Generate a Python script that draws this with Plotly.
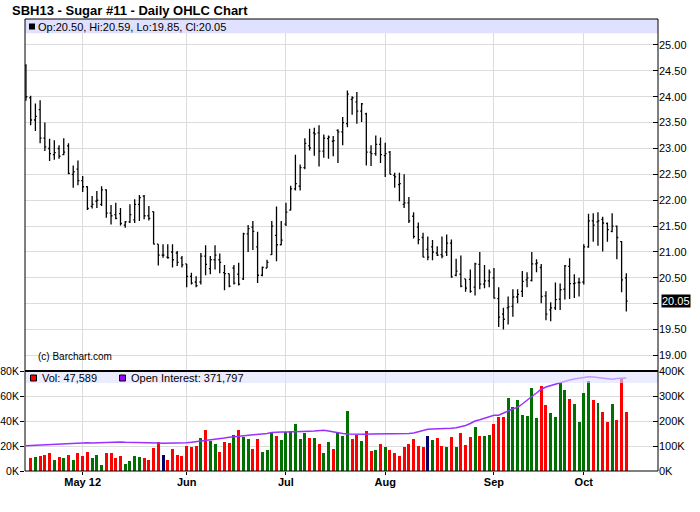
import pandas as pd
import plotly.graph_objects as go

# ---------------- data ----------------
holidays = ["2012-05-28", "2012-07-04", "2012-09-03"]
dates = [d.strftime("%Y-%m-%d") for d in pd.bdate_range("2012-04-13", "2012-10-12")
         if d.strftime("%Y-%m-%d") not in holidays]

opens = [24.60, 23.98, 23.55, 23.75, 23.20, 23.00, 22.88, 23.00, 22.88, 23.05,
         22.50, 22.60, 22.38, 22.26, 21.88, 21.98, 21.92, 22.20, 21.75, 21.72,
         21.74, 21.52, 21.58, 21.62, 21.92, 22.08, 21.70, 21.78, 21.15, 20.94,
         20.90, 21.00, 20.98, 20.88, 20.77, 20.53, 20.42, 20.42, 20.92, 20.68,
         20.85, 20.85, 20.60, 20.58, 20.69, 20.57, 20.48, 21.35, 21.48, 21.10,
         20.55, 20.69, 20.95, 21.32, 21.14, 21.54, 21.81, 22.22, 22.27, 22.63,
         23.05, 23.30, 23.30, 22.95, 23.19, 23.14, 23.35, 23.32, 23.48, 23.95,
         23.90, 23.72, 23.67, 22.93, 22.90, 23.08, 22.86, 22.93, 22.48, 22.30,
         21.92, 21.95, 21.69, 21.48, 21.28, 21.05, 21.10, 20.98, 20.95, 21.00,
         21.17, 20.55, 20.57, 20.48, 20.47, 20.32, 20.76, 20.38, 20.44, 20.50,
         20.10, 19.80, 19.92, 19.95, 20.13, 20.24, 20.46, 20.45, 20.77, 20.70,
         20.15, 19.88, 19.92, 20.09, 20.28, 20.72, 20.39, 20.41, 20.42, 21.10,
         21.60, 21.58, 21.63, 21.55, 21.40, 21.50, 21.20, 20.50]
highs = [24.63, 24.02, 23.87, 23.93, 23.50, 23.19, 23.16, 23.06, 23.20, 23.10,
         22.67, 22.77, 22.47, 22.27, 22.08, 22.18, 22.27, 22.21, 21.91, 21.95,
         21.85, 21.60, 21.92, 22.02, 22.10, 22.10, 21.89, 21.78, 21.15, 21.15,
         21.15, 21.15, 21.02, 20.92, 20.77, 20.60, 20.53, 20.98, 21.13, 20.92,
         21.13, 20.97, 20.75, 20.58, 20.75, 20.79, 21.37, 21.52, 21.60, 21.39,
         20.72, 20.85, 21.60, 21.88, 21.60, 21.95, 22.28, 22.88, 22.69, 23.20,
         23.38, 23.40, 23.45, 23.27, 23.25, 23.24, 23.37, 23.61, 24.12, 24.01,
         24.09, 23.88, 23.69, 23.06, 23.25, 23.21, 23.11, 22.95, 22.53, 22.53,
         22.50, 22.06, 21.77, 21.57, 21.37, 21.30, 21.23, 21.11, 21.30, 21.34,
         21.24, 20.87, 20.93, 20.48, 20.66, 20.79, 21.00, 20.75, 20.66, 20.69,
         20.32, 19.92, 20.14, 20.28, 20.28, 20.63, 20.61, 21.00, 20.86, 20.77,
         20.24, 20.03, 20.41, 20.39, 20.75, 20.88, 20.57, 20.50, 21.15, 21.74,
         21.75, 21.77, 21.68, 21.57, 21.75, 21.51, 21.21, 20.59]
lows = [23.92, 23.45, 23.34, 23.10, 22.95, 22.76, 22.78, 22.80, 22.87, 22.50,
        22.24, 22.29, 22.16, 21.81, 21.84, 21.85, 21.89, 21.66, 21.53, 21.63,
        21.51, 21.47, 21.56, 21.56, 21.60, 21.63, 21.61, 21.15, 20.74, 20.89,
        20.87, 20.70, 20.73, 20.70, 20.32, 20.37, 20.32, 20.37, 20.55, 20.57,
        20.66, 20.59, 20.26, 20.32, 20.37, 20.35, 20.46, 21.00, 21.04, 20.40,
        20.53, 20.69, 20.94, 20.82, 21.13, 21.50, 21.80, 22.19, 22.19, 22.60,
        22.96, 22.86, 22.65, 22.82, 22.80, 22.85, 22.72, 23.06, 23.41, 23.65,
        23.48, 23.51, 22.67, 22.66, 22.86, 22.72, 22.45, 22.50, 22.24, 21.98,
        21.85, 21.56, 21.26, 21.15, 20.90, 20.84, 20.84, 20.92, 20.88, 20.92,
        20.50, 20.53, 20.32, 20.23, 20.21, 20.16, 20.28, 20.30, 20.32, 20.10,
        19.55, 19.50, 19.60, 19.75, 20.01, 20.13, 20.32, 20.43, 20.61, 20.01,
        19.68, 19.66, 19.88, 19.88, 20.08, 20.09, 20.11, 20.14, 20.37, 21.08,
        21.20, 21.12, 21.01, 21.20, 21.38, 20.86, 20.22, 19.85]
closes = [24.00, 23.55, 23.62, 23.20, 23.03, 22.90, 22.92, 22.85, 22.93, 22.52,
          22.55, 22.38, 22.26, 21.84, 21.92, 22.00, 22.20, 21.75, 21.70, 21.65,
          21.55, 21.58, 21.72, 21.92, 22.05, 21.70, 21.65, 21.15, 20.94, 20.94,
          20.89, 20.85, 20.80, 20.75, 20.53, 20.40, 20.35, 20.92, 20.76, 20.85,
          20.94, 20.80, 20.58, 20.34, 20.40, 20.38, 21.35, 21.45, 21.40, 20.55,
          20.70, 20.80, 21.50, 21.14, 21.23, 21.77, 22.22, 22.32, 22.63, 23.10,
          23.01, 23.28, 22.95, 23.20, 23.22, 23.15, 23.32, 23.50, 24.05, 23.98,
          23.72, 23.86, 22.93, 22.90, 23.08, 22.88, 22.90, 22.50, 22.45, 22.32,
          21.95, 21.60, 21.30, 21.24, 20.90, 20.90, 21.00, 20.94, 20.92, 21.17,
          20.52, 20.63, 20.34, 20.30, 20.24, 20.77, 20.38, 20.44, 20.61, 20.11,
          19.74, 19.70, 19.94, 20.13, 20.18, 20.43, 20.50, 20.77, 20.79, 20.14,
          19.80, 19.92, 20.08, 20.27, 20.73, 20.39, 20.40, 20.41, 21.10, 21.60,
          21.52, 21.60, 21.56, 21.43, 21.50, 21.28, 20.46, 20.05]
volumes = [None, 10400, 11200, 12300, 12800, 14400, 8800, 11200, 10400, 12800,
           8800, 14100, 12300, 15200, 10400, 12800, 4800, 14400, 14700, 10400,
           12300, 5600, 8000, 12000, 11200, 10400, 8800, 18700, 23200, 12800,
           8800, 17600, 12800, 12300, 20000, 19200, 20000, 26400, 32800, 23700,
           21600, 15200, 23200, 22400, 28800, 32800, 27200, 25600, 17600, 25600,
           15200, 16800, 31200, 28000, 24800, 30900, 32000, 37600, 25600, 30400,
           26400, 26400, 21600, 14400, 23200, 17600, 30600, 28000, 48000, 25900,
           28800, 24000, 32000, 16000, 16800, 21600, 19200, 16800, 14400, 12000,
           19200, 21600, 25600, 20000, 19200, 28000, 24800, 26400, 20000, 19200,
           27200, 19200, 30400, 20800, 27200, 35200, 28000, 28000, 28800, 37600,
           43200, 43200, 58400, 51200, 56800, 44800, 44000, 66400, 42400, 68000,
           52800, 46400, 43200, 70400, 64800, 57600, 53600, 39200, 62400, 72000,
           56800, 54400, 47200, 39200, 53600, 40800, 74400, 47589]
open_interest = [101000, 102000, 103000, 104000, 105000, 106000, 107000, 108000, 109000, 110000,
                 111000, 112000, 113000, 113000, 112000, 113000, 114000, 115000, 116000, 116000,
                 116000, 115000, 115000, 114000, 114000, 113000, 113000, 112000, 112000, 111000,
                 111000, 112000, 112000, 113000, 113000, 115000, 117000, 120000, 122000, 125000,
                 127000, 130000, 132000, 135000, 137000, 138000, 140000, 141000, 143000, 144000,
                 146000, 150000, 154000, 156000, 156000, 156000, 156000, 156000, 157000, 158000,
                 159000, 160000, 162000, 163000, 160000, 156000, 153000, 150000, 148000, 147000,
                 147000, 147000, 147000, 148000, 148000, 149000, 149000, 150000, 150000, 150000,
                 150000, 150000, 152000, 158000, 163000, 167000, 168000, 168000, 169000, 170000,
                 171000, 173000, 176000, 182000, 190000, 200000, 205000, 212000, 218000, 223000,
                 223000, 230000, 240000, 248000, 255000, 268000, 285000, 298000, 312000, 327000,
                 336000, 342000, 347000, 353000, 360000, 364000, 368000, 371000, 374000, 377000,
                 376000, 374000, 372000, 369000, 367000, 370000, 371000, 371797]

month_ticks = ["2012-05-01", "2012-06-01", "2012-07-02", "2012-08-01", "2012-09-04", "2012-10-01"]
month_labels = ["May 12", "Jun", "Jul", "Aug", "Sep", "Oct"]
price_ticks = [19.0, 19.5, 20.0, 20.5, 21.0, 21.5, 22.0, 22.5, 23.0, 23.5, 24.0, 24.5, 25.0]
vol_ticks = [0, 20000, 40000, 60000, 80000]
oi_ticks = [0, 100000, 200000, 300000, 400000]
title_text = "SBH13 - Sugar #11 - Daily OHLC Chart"

# ---------------- geometry helpers ----------------
W, H = 700, 512
ML, MR, MT, MB = 25, 42, 19, 41
PW, PH = W - ML - MR, H - MT - MB
PRICE_RANGE = [18.70, 25.502]


def px(x):
    return (x - ML) / PW


def py(y):
    return (H - MB - y) / PH


split = py(371)
FONT = "Liberation Sans, Arial, sans-serif"

# volume colours from close-to-close change
vol_colors = []
for i, c in enumerate(closes):
    prev = closes[i - 1] if i > 0 else c
    d = round(c - prev, 4)
    vol_colors.append("#007000" if d > 0 else ("#FF0000" if d < 0 else "#000066"))

fig = go.Figure()
fig.add_trace(go.Bar(x=dates, y=volumes, marker=dict(color=vol_colors, line=dict(width=0)),
                     width=0.62, xaxis="x", yaxis="y", showlegend=False, hoverinfo="skip"))
fig.add_trace(go.Scatter(x=dates, y=open_interest, mode="lines",
                         line=dict(color="#9B30FF", width=1.5), xaxis="x", yaxis="y3",
                         showlegend=False, hoverinfo="skip"))
fig.add_trace(go.Ohlc(x=dates, open=opens, high=highs, low=lows, close=closes,
                      increasing=dict(line=dict(color="black", width=1.3)),
                      decreasing=dict(line=dict(color="black", width=1.3)),
                      tickwidth=0.3, xaxis="x2", yaxis="y2", showlegend=False))

grid = "#DCDCDC"
xcommon = dict(type="category", range=[-0.2, 133.7], tickvals=month_ticks,
               showgrid=True, gridcolor=grid, gridwidth=1, showline=False, zeroline=False,
               rangeslider=dict(visible=False), fixedrange=True, automargin=False)

price_labels = ["" if v == 20.0 else "%.2f" % v for v in price_ticks]

fig.update_layout(
    width=W, height=H, margin=dict(l=ML, r=MR, t=MT, b=MB, autoexpand=False),
    paper_bgcolor="white", plot_bgcolor="white",
    font=dict(family=FONT, size=11, color="black"),
    showlegend=False, bargap=0,
    xaxis=dict(domain=[0, 1], anchor="y",
               ticktext=["<b>%s</b>" % t for t in month_labels],
               ticks="outside", ticklen=3, tickcolor="black", ticklabelstandoff=-2,
               tickfont=dict(family=FONT, size=11, color="black"), **xcommon),
    xaxis2=dict(domain=[0, 1], anchor="y2", matches="x", showticklabels=False,
                ticks="", **xcommon),
    yaxis=dict(domain=[0, split], range=[0, 80000], tickvals=vol_ticks,
               ticktext=["%dK" % (v // 1000) for v in vol_ticks],
               side="left", ticks="outside", ticklen=4, tickcolor="black",
               ticklabelstandoff=-1,
               showgrid=True, gridcolor=grid, zeroline=False, fixedrange=True,
               automargin=False, tickfont=dict(size=10.5)),
    yaxis3=dict(overlaying="y", anchor="x", range=[0, 400000], tickvals=oi_ticks,
                ticktext=["%dK" % (v // 1000) for v in oi_ticks],
                side="right", ticks="inside", ticklen=5, tickcolor="black",
                showgrid=False, zeroline=False, fixedrange=True, automargin=False,
                tickfont=dict(size=11)),
    yaxis2=dict(domain=[split, 1], anchor="x2", range=PRICE_RANGE, tickvals=price_ticks,
                ticktext=price_labels,
                side="right", ticks="inside", ticklen=5, tickcolor="black",
                showgrid=True, gridcolor=grid, zeroline=False, fixedrange=True,
                automargin=False, tickfont=dict(size=11)),
)

shapes = [
    # legend bands
    dict(type="rect", xref="paper", yref="paper", x0=0, x1=1, y0=py(33.3), y1=1,
         fillcolor="#E0E0FF", line=dict(width=0), layer="above"),
    dict(type="rect", xref="paper", yref="paper", x0=0, x1=1, y0=py(383), y1=split,
         fillcolor="#E0E0FF", opacity=0.6, line=dict(width=0), layer="above"),
    # panel borders
    dict(type="rect", xref="paper", yref="paper", x0=0, x1=1, y0=split, y1=1,
         line=dict(color="black", width=1), layer="above"),
    dict(type="rect", xref="paper", yref="paper", x0=0, x1=1, y0=0, y1=split,
         line=dict(color="black", width=1), layer="above"),
    dict(type="line", xref="paper", yref="paper", x0=0, x1=1, y0=split, y1=split,
         line=dict(color="black", width=2), layer="above"),
    # legend swatches
    dict(type="rect", xref="paper", yref="paper", x0=px(29), x1=px(35), y0=py(29.5), y1=py(23.5),
         fillcolor="black", line=dict(width=0), layer="above"),
    dict(type="rect", xref="paper", yref="paper", x0=px(30.5), x1=px(36.5), y0=py(381), y1=py(375),
         fillcolor="#FF0000", line=dict(color="black", width=1), layer="above"),
    dict(type="rect", xref="paper", yref="paper", x0=px(119.5), x1=px(125.5), y0=py(381), y1=py(375),
         fillcolor="#9900FF", line=dict(color="black", width=1), layer="above"),
]
fig.update_layout(shapes=shapes)

# current price box position (paper units on the price panel)
last_y = split + (closes[-1] - PRICE_RANGE[0]) / (PRICE_RANGE[1] - PRICE_RANGE[0]) * (1 - split)

ohlc_text = "Op:%.2f, Hi:%.2f, Lo:%.2f, Cl:%.2f" % (opens[-1], highs[-1], lows[-1], closes[-1])
annotations = [
    dict(text="<b>%s</b>" % title_text, xref="paper", yref="paper", x=px(10), y=py(11),
         xanchor="left", yanchor="middle", showarrow=False, font=dict(size=13)),
    dict(text=ohlc_text, xref="paper", yref="paper", x=px(36), y=py(26.5),
         xanchor="left", yanchor="middle", showarrow=False, font=dict(size=11)),
    dict(text="Vol: {:,}".format(volumes[-1]), xref="paper", yref="paper", x=px(40), y=py(378),
         xanchor="left", yanchor="middle", showarrow=False, font=dict(size=11)),
    dict(text="Open Interest: {:,}".format(open_interest[-1]), xref="paper", yref="paper",
         x=px(129), y=py(378), xanchor="left", yanchor="middle", showarrow=False,
         font=dict(size=11)),
    dict(text="(c) Barchart.com", xref="paper", yref="paper", x=px(36), y=py(356),
         xanchor="left", yanchor="middle", showarrow=False, font=dict(size=10)),
    dict(text="%.2f" % closes[-1], xref="paper", yref="paper", x=px(661), y=last_y,
         xanchor="left", yanchor="middle", showarrow=False, bgcolor="black",
         borderpad=0, font=dict(size=11, color="white")),
]
fig.update_layout(annotations=annotations)

fig.write_html("out.html", config={"displayModeBar": False},
               post_script="document.documentElement.style.margin='0px';"
                           "document.body.style.margin='0px';document.body.style.padding='0px';")
